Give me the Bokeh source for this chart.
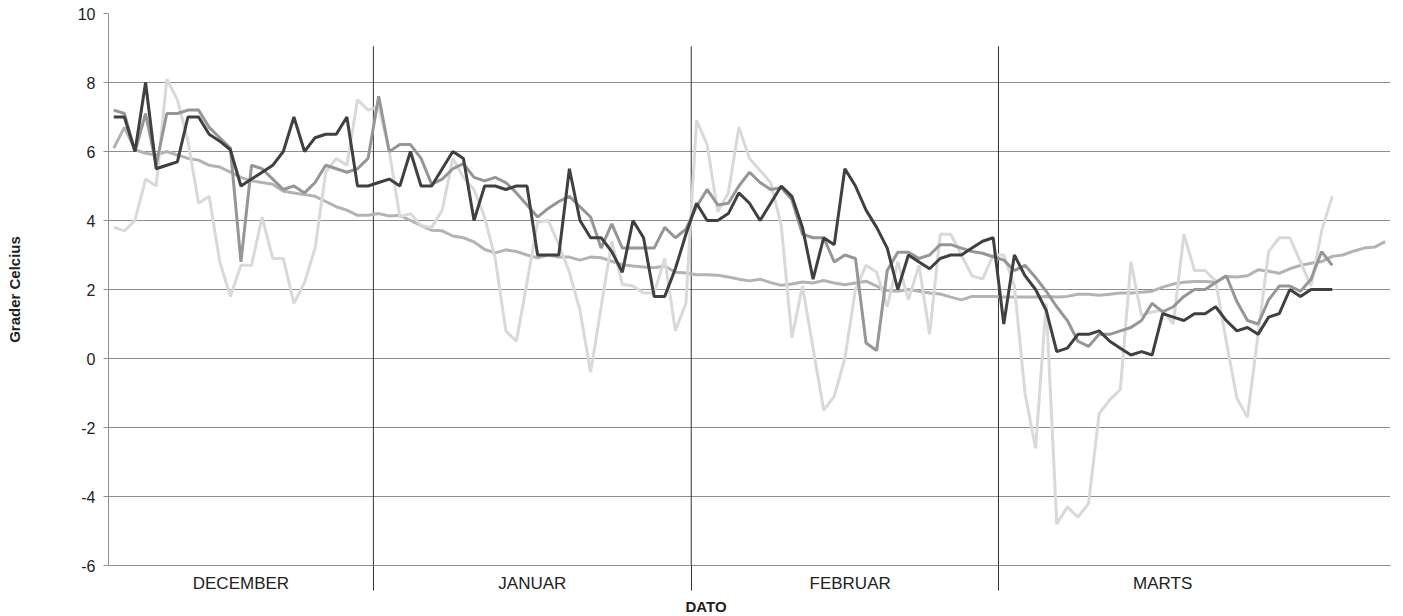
from bokeh.plotting import figure
from bokeh.models import Range1d, FixedTicker, Title
from bokeh.embed import file_html
from bokeh.resources import INLINE

# ---------------- data ----------------
months = ["DECEMBER", "JANUAR", "FEBRUAR", "MARTS"]
month_label_pos = [13, 40.5, 70.5, 100]
month_bounds = [25.5, 55.5, 84.5]

days_all = list(range(1, 122))
days_obs = list(range(1, 117))

dark = [7.0, 7.0, 6.0, 8.0, 5.5, 5.6, 5.7, 7.0, 7.0, 6.5,
        6.3, 6.05, 5.0, 5.2, 5.4, 5.6, 6.0, 7.0, 6.0, 6.4,
        6.5, 6.5, 7.0, 5.0, 5.0, 5.1, 5.2, 5.0, 6.0, 5.0,
        5.0, 5.5, 6.0, 5.8, 4.0, 5.0, 5.0, 4.9, 5.0, 5.0,
        3.0, 3.0, 3.0, 5.5, 4.0, 3.5, 3.5, 3.1, 2.5, 4.0,
        3.5, 1.8, 1.8, 2.6, 3.6, 4.5, 4.0, 4.0, 4.2, 4.8,
        4.5, 4.0, 4.5, 5.0, 4.7, 3.8, 2.3, 3.5, 3.3, 5.5,
        5.0, 4.3, 3.8, 3.2, 2.0, 3.0, 2.8, 2.6, 2.9, 3.0,
        3.0, 3.2, 3.4, 3.5, 1.0, 3.0, 2.4, 2.0, 1.4, 0.2,
        0.3, 0.7, 0.7, 0.8, 0.5, 0.3, 0.1, 0.2, 0.1, 1.3,
        1.2, 1.1, 1.3, 1.3, 1.5, 1.1, 0.8, 0.9, 0.7, 1.2,
        1.3, 2.0, 1.8, 2.0, 2.0, 2.0]

medium = [7.2, 7.1, 6.0, 7.1, 5.6, 7.1, 7.1, 7.2, 7.2, 6.7,
          6.4, 6.1, 2.8, 5.6, 5.5, 5.2, 4.9, 5.0, 4.8, 5.1,
          5.6, 5.5, 5.4, 5.5, 5.8, 7.6, 6.0, 6.2, 6.2, 5.8,
          5.05, 5.2, 5.5, 5.65, 5.25, 5.15, 5.25, 5.1, 4.8, 4.45,
          4.1, 4.35, 4.55, 4.7, 4.4, 4.1, 3.2, 3.9, 3.2, 3.2,
          3.2, 3.2, 3.8, 3.5, 3.75, 4.4, 4.9, 4.45, 4.5, 5.0,
          5.4, 5.1, 4.9, 4.95, 4.6, 3.6, 3.5, 3.5, 2.8, 3.0,
          2.9, 0.45, 0.23, 2.55, 3.08, 3.08, 2.9, 3.0, 3.3, 3.3,
          3.2, 3.1, 3.05, 2.95, 2.85, 2.55, 2.7, 2.35, 1.95, 1.5,
          1.1, 0.5, 0.35, 0.7, 0.7, 0.8, 0.9, 1.1, 1.6, 1.35,
          1.5, 1.8, 2.0, 2.0, 2.2, 2.4, 1.65, 1.1, 1.0, 1.7,
          2.1, 2.1, 1.95, 2.3, 3.1, 2.7]

light = [3.8, 3.7, 4.0, 5.2, 5.0, 8.1, 7.5, 6.3, 4.5, 4.7,
         2.8, 1.8, 2.7, 2.7, 4.1, 2.9, 2.9, 1.6, 2.2, 3.2,
         5.4, 5.8, 5.6, 7.5, 7.2, 7.3, 6.0, 4.1, 4.2, 3.85,
         3.8, 4.3, 5.8, 5.25, 4.9, 4.1, 2.9, 0.8, 0.5, 2.2,
         3.95, 4.0, 3.3, 2.5, 1.4, -0.4, 1.5, 3.4, 2.15, 2.1,
         1.9, 1.9, 2.9, 0.8, 1.6, 6.9, 6.2, 4.25, 4.8, 6.7,
         5.8, 5.45, 5.1, 3.85, 0.6, 2.1, 0.3, -1.5, -1.1, 0.0,
         2.0, 2.7, 2.5, 1.5, 2.8, 1.7, 2.7, 0.7, 3.6, 3.6,
         3.0, 2.4, 2.3, 3.0, 3.0, 2.1, -1.0, -2.6, 1.6, -4.8,
         -4.3, -4.6, -4.2, -1.6, -1.2, -0.9, 2.8, 1.25, 1.35, 1.4,
         1.0, 3.6, 2.55, 2.55, 2.25, 0.5, -1.15, -1.7, 0.7, 3.1,
         3.5, 3.5, 2.8, 2.1, 3.7, 4.7]

normal = [6.1, 6.7, 6.05, 5.95, 5.9, 6.0, 5.9, 5.8, 5.75, 5.6,
          5.55, 5.4, 5.25, 5.15, 5.1, 5.05, 4.85, 4.8, 4.75, 4.7,
          4.55, 4.4, 4.3, 4.15, 4.15, 4.2, 4.13, 4.15, 4.0, 3.85,
          3.72, 3.7, 3.55, 3.5, 3.38, 3.16, 3.06, 3.15, 3.1, 3.0,
          2.92, 3.0, 2.94, 2.94, 2.85, 2.94, 2.92, 2.82, 2.72, 2.68,
          2.65, 2.63, 2.68, 2.5, 2.48, 2.43, 2.43, 2.41, 2.36, 2.3,
          2.25, 2.3, 2.2, 2.12, 2.16, 2.22, 2.19, 2.26, 2.19, 2.14,
          2.19, 2.24, 2.1, 1.97, 1.95, 2.0, 1.95, 1.9, 1.87, 1.78,
          1.7, 1.8, 1.8, 1.8, 1.78, 1.78, 1.78, 1.78, 1.8, 1.78,
          1.8, 1.86, 1.86, 1.83, 1.86, 1.9, 1.9, 1.92, 1.95, 2.07,
          2.16, 2.21, 2.23, 2.23, 2.21, 2.38, 2.36, 2.4, 2.57, 2.53,
          2.47, 2.6, 2.7, 2.76, 2.81, 2.96, 3.0, 3.11, 3.2, 3.23,
          3.39]

y_ticks = [-6, -4, -2, 0, 2, 4, 6, 8, 10]
y_tick_labels = ["-6", "-4", "-2", "0", "2", "4", "6", "8", "10"]

# ---------------- figure ----------------
FONT = "Liberation Sans"
p = figure(width=1400, height=614,
           x_range=Range1d(0.5, 121.5), y_range=Range1d(-6, 10),
           output_backend="svg", toolbar_location=None,
           min_border_left=108, min_border_right=10,
           min_border_top=13, min_border_bottom=49)
p.outline_line_color = None
p.background_fill_color = "white"
p.border_fill_color = "white"

# grid
p.xgrid.grid_line_color = None
p.ygrid.ticker = FixedTicker(ticks=y_ticks)
p.ygrid.grid_line_color = "#8e8e8e"
p.ygrid.grid_line_width = 1

# y axis
ya = p.yaxis[0]
ya.ticker = FixedTicker(ticks=y_ticks)
ya.major_label_overrides = {t: s for t, s in zip(y_ticks, y_tick_labels)}
ya.axis_line_color = "#8e8e8e"
ya.major_tick_line_color = "#8e8e8e"
ya.major_tick_out = 5
ya.major_tick_in = 0
ya.minor_tick_line_color = None
ya.major_label_standoff = 8
ya.major_label_text_font = FONT
ya.major_label_text_font_size = "16px"
ya.major_label_text_color = "#222222"
ya.axis_label = "Grader Celcius"
ya.axis_label_text_font = FONT
ya.axis_label_text_font_style = "bold"
ya.axis_label_text_font_size = "15px"
ya.axis_label_text_color = "#222222"
ya.axis_label_standoff = 52

# x axis
xa = p.xaxis[0]
xa.ticker = FixedTicker(ticks=month_label_pos, minor_ticks=month_bounds)
xa.major_label_overrides = {pos: m for pos, m in zip(month_label_pos, months)}
xa.axis_line_color = "#8e8e8e"
xa.major_tick_line_color = None
xa.major_tick_out = 0
xa.major_tick_in = 0
xa.minor_tick_line_color = "#333333"
xa.minor_tick_out = 25
xa.minor_tick_in = 0
xa.major_label_standoff = -17
xa.major_label_text_font = FONT
xa.major_label_text_font_size = "17px"
xa.major_label_text_color = "#222222"

# month separators inside the plot
p.segment(x0=month_bounds, y0=[-6] * 3, x1=month_bounds, y1=[9.05] * 3,
          line_color="#333333", line_width=1)

# series
p.line(days_all, normal, line_color="#b3b3b3", line_width=3)
p.line(days_obs, light, line_color="#d9d9d9", line_width=3)
p.line(days_obs, medium, line_color="#969696", line_width=3)
p.line(days_obs, dark, line_color="#404040", line_width=3)

# x axis title
t = Title(text="DATO", align="left", offset=577, standoff=0,
          text_font=FONT, text_font_style="bold", text_font_size="15px",
          text_color="#222222")
p.add_layout(t, "below")

open("out.html", "w").write(file_html(p, INLINE))
